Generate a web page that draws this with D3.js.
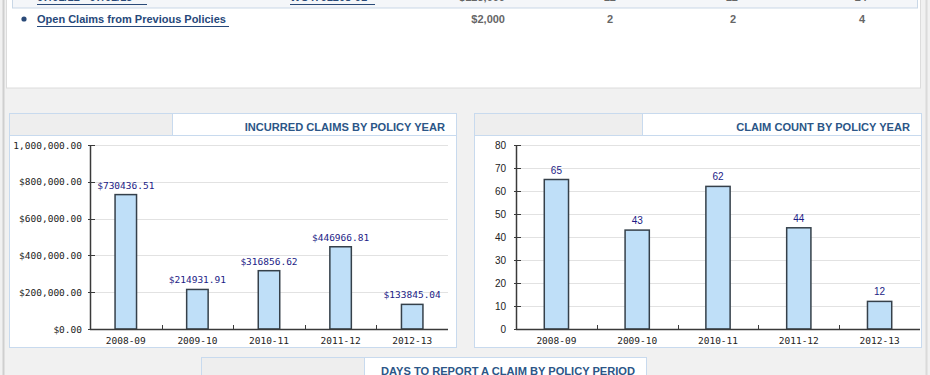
<!DOCTYPE html>
<html>
<head>
<meta charset="utf-8">
<script src="https://cdn.jsdelivr.net/npm/d3@7"></script>
<style>
  body { margin: 0; background: #f1f1f1; }
  svg { display: block; }
</style>
</head>
<body>
<div id="page"></div>
<script>
const W = 930, H = 375;

// chart data
const years = ["2008-09", "2009-10", "2010-11", "2011-12", "2012-13"];
const incurred = [730436.51, 214931.91, 316856.62, 446966.81, 133845.04];
const claimCounts = [65, 43, 62, 44, 12];
const incurredTicks = [0, 200000, 400000, 600000, 800000, 1000000];
const incurredTickLabels = ["$0.00", "$200,000.00", "$400,000.00", "$600,000.00", "$800,000.00", "1,000,000.00"];
const countTicks = [0, 10, 20, 30, 40, 50, 60, 70, 80];

// table row at top
const tableRow = ["Open Claims from Previous Policies", "$2,000", "2", "2", "4"];

const mono = "'DejaVu Sans Mono', monospace";
const sans = "'Liberation Sans', Arial, sans-serif";
const navy = "#1c1c86";
const titleBlue = "#2b5687";
const panelBorder = "#c8daee";

let svg = d3.select("#page").append("svg")
    .attr("width", W)
    .attr("height", H);

svg.append("rect").attr("width", W).attr("height", H).attr("fill", "#f1f1f1");
svg.append("line").attr("x1", 3.5).attr("x2", 3.5).attr("y1", 0).attr("y2", H)
    .attr("stroke", "#cfcfcf").attr("stroke-width", 2);
svg.append("line").attr("x1", 926.5).attr("x2", 926.5).attr("y1", 0).attr("y2", H)
    .attr("stroke", "#dadada").attr("stroke-width", 2);

// top white panel with the tail of the claims table
svg.append("rect").attr("x", 6.5).attr("y", -5).attr("width", 914).attr("height", 93)
    .attr("fill", "#fff").attr("stroke", "#dcdcdc");
svg.append("rect").attr("x", 12.5).attr("y", -12).attr("width", 905).attr("height", 20)
    .attr("fill", "#f4f6f9").attr("stroke", "#c9d7e6");

// cut-off row above (only the bottom shows)
let clipped = svg.append("g").style("font-family", sans).style("font-weight", "bold").style("font-size", "11px");
clipped.append("text").attr("x", 37).attr("y", 1).attr("fill", "#2a4a78").text("07/01/12 - 07/01/13");
clipped.append("line").attr("x1", 37).attr("x2", 147).attr("y1", 4.5).attr("y2", 4.5).attr("stroke", "#2a4a78");
clipped.append("text").attr("x", 290).attr("y", 1).attr("fill", "#2a4a78").text("WC4761208-01");
clipped.append("line").attr("x1", 290).attr("x2", 375).attr("y1", 4.5).attr("y2", 4.5).attr("stroke", "#2a4a78");
[["$123,000", 505], ["12", 616], ["12", 738], ["24", 867]].forEach(function(d) {
    clipped.append("text").attr("x", d[1]).attr("y", 1).attr("text-anchor", "end").attr("fill", "#666").text(d[0]);
});

let row = svg.append("g").style("font-family", sans).style("font-weight", "bold").style("font-size", "11px");
row.append("circle").attr("cx", 24).attr("cy", 19).attr("r", 2.6).attr("fill", "#2a4a78");
row.append("text").attr("x", 37).attr("y", 23).attr("fill", "#26487a").text(tableRow[0]);
row.append("line").attr("x1", 37).attr("x2", 229).attr("y1", 26.5).attr("y2", 26.5).attr("stroke", "#26487a");
[[tableRow[1], 505], [tableRow[2], 613], [tableRow[3], 736], [tableRow[4], 865]].forEach(function(d) {
    row.append("text").attr("x", d[1]).attr("y", 23).attr("text-anchor", "end").attr("fill", "#666").text(d[0]);
});

function panel(x, y, w, h, split, title) {
    let g = svg.append("g");
    g.append("rect").attr("x", x + 0.5).attr("y", y + 0.5).attr("width", w).attr("height", h)
        .attr("fill", "#fff").attr("stroke", panelBorder);
    g.append("rect").attr("x", x + 1).attr("y", y + 1).attr("width", split - x - 1).attr("height", 21.5)
        .attr("fill", "#eeeeee");
    g.append("line").attr("x1", split + 0.5).attr("x2", split + 0.5).attr("y1", y).attr("y2", y + 22.5)
        .attr("stroke", panelBorder);
    g.append("line").attr("x1", x).attr("x2", x + w).attr("y1", y + 22.5).attr("y2", y + 22.5)
        .attr("stroke", panelBorder);
    g.append("text").attr("x", x + w - 11).attr("y", y + 17.5)
        .attr("text-anchor", "end")
        .style("font-family", sans).style("font-weight", "bold").style("font-size", "11.1px")
        .attr("fill", titleBlue)
        .text(title);
}

panel(9, 113, 447, 234, 172, "INCURRED CLAIMS BY POLICY YEAR");
panel(474, 113, 447, 234, 642, "CLAIM COUNT BY POLICY YEAR");
panel(201, 357, 445, 40, 364, "DAYS TO REPORT A CLAIM BY POLICY PERIOD");

function barChart(opts) {
    let g = svg.append("g");
    let x = d3.scaleBand().domain(years).range([opts.left, opts.right]).padding(0);
    let y = d3.scaleLinear().domain([0, opts.max]).range([opts.bottom, opts.top]);

    // gridlines
    g.selectAll(".grid").data(opts.ticks.slice(1)).enter()
        .append("line")
        .attr("x1", opts.left).attr("x2", opts.right)
        .attr("y1", function(d) { return Math.round(y(d)) + 0.5; })
        .attr("y2", function(d) { return Math.round(y(d)) + 0.5; })
        .attr("stroke", "#e2e2e2");

    // y axis
    g.append("line").attr("x1", opts.left + 0.5).attr("x2", opts.left + 0.5)
        .attr("y1", opts.top).attr("y2", opts.bottom)
        .attr("stroke", "#3a3a3a").attr("stroke-width", 1.5);
    g.selectAll(".ytick").data(opts.ticks).enter()
        .append("line")
        .attr("x1", opts.left - 2).attr("x2", opts.left + 5)
        .attr("y1", function(d) { return Math.round(y(d)) + 0.5; })
        .attr("y2", function(d) { return Math.round(y(d)) + 0.5; })
        .attr("stroke", "#3a3a3a");
    g.selectAll(".ylab").data(opts.ticks).enter()
        .append("text")
        .attr("x", opts.labelX)
        .attr("y", function(d) { return y(d) + 3.5; })
        .attr("text-anchor", "end")
        .style("font-family", opts.tickFont).style("font-size", opts.tickSize)
        .attr("fill", "#222")
        .text(function(d, i) { return opts.tickLabels[i]; });

    // bars
    let bw = x.bandwidth() * 0.3;
    g.selectAll(".bar").data(opts.values).enter()
        .append("rect")
        .attr("x", function(d, i) { return x(years[i]) + (x.bandwidth() - bw) / 2; })
        .attr("y", function(d) { return y(d); })
        .attr("width", bw)
        .attr("height", function(d) { return opts.bottom - y(d); })
        .attr("fill", "#bfdff8")
        .attr("stroke", "#35404a")
        .attr("stroke-width", 1.5);

    g.selectAll(".val").data(opts.values).enter()
        .append("text")
        .attr("x", function(d, i) { return x(years[i]) + x.bandwidth() / 2; })
        .attr("y", function(d) { return y(d) - 6; })
        .attr("text-anchor", "middle")
        .style("font-family", opts.valFont).style("font-size", opts.valSize)
        .attr("fill", navy)
        .text(opts.valFormat);

    // x axis
    g.append("line").attr("x1", opts.left).attr("x2", opts.right)
        .attr("y1", opts.bottom + 0.5).attr("y2", opts.bottom + 0.5)
        .attr("stroke", "#3a3a3a").attr("stroke-width", 1.5);
    g.selectAll(".xtick").data(years.slice(1)).enter()
        .append("line")
        .attr("x1", function(d) { return Math.round(x(d)) + 0.5; })
        .attr("x2", function(d) { return Math.round(x(d)) + 0.5; })
        .attr("y1", opts.bottom - 4).attr("y2", opts.bottom)
        .attr("stroke", "#3a3a3a");
    g.selectAll(".xlab").data(years).enter()
        .append("text")
        .attr("x", function(d) { return x(d) + x.bandwidth() / 2; })
        .attr("y", opts.bottom + 15)
        .attr("text-anchor", "middle")
        .style("font-family", mono).style("font-size", "9.5px")
        .attr("fill", "#222")
        .text(function(d) { return d; });
}

barChart({
    left: 90, right: 448, top: 145, bottom: 329, max: 1000000,
    ticks: incurredTicks, tickLabels: incurredTickLabels,
    tickFont: mono, tickSize: "9.5px", labelX: 82,
    values: incurred, valFont: mono, valSize: "9.5px",
    valFormat: function(d) { return "$" + d.toFixed(2); }
});

barChart({
    left: 516, right: 920, top: 145, bottom: 329, max: 80,
    ticks: countTicks, tickLabels: countTicks.map(String),
    tickFont: sans, tickSize: "10px", labelX: 506,
    values: claimCounts, valFont: sans, valSize: "10px",
    valFormat: function(d) { return d; }
});
</script>
</body>
</html>
